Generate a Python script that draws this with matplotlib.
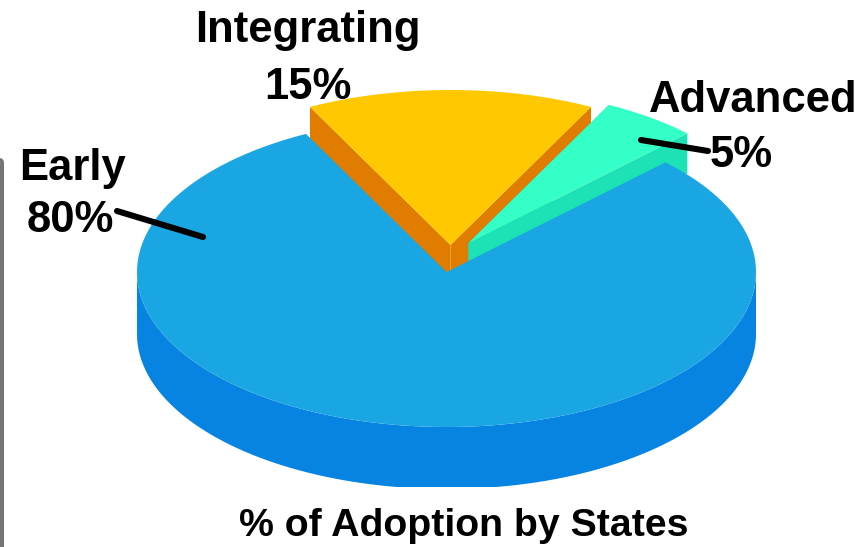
import numpy as np
import matplotlib
matplotlib.use("Agg")
import matplotlib.pyplot as plt
from matplotlib.patches import Polygon, FancyBboxPatch, Rectangle

plt.rcParams["font.family"] = ["Liberation Sans", "DejaVu Sans"]

# going counter-clockwise from the start angle
categories = ["Early", "Advanced", "Integrating"]
shares = [80, 5, 15]
percent_labels = ["80%", "5%", "15%"]
title = "% of Adoption by States"

top_colors = ["#1AA5E3", "#33FFC6", "#FFC800"]
side_colors = ["#0784E2", "#1CE2B5", "#E07D00"]

start_angle = 117
radius_x, radius_y = 309.5, 155
center = (446.5, 272)
offsets = [(0, 0), (22, -29), (4, -27)]
depths = [62, 40, 34]
draw_order = [2, 1, 0]  # blue sits on top of the others

# name x, percent x, name baseline, percent baseline
label_pos = [(72, 70, 180, 232), (753, 741, 112, 167), (308, 308, 42, 99)]
leaders = [((117, 211), (203, 237)), ((641, 140), (708, 151)), None]


def arc_points(cx, cy, t0, t1, n=200):
    t = np.radians(np.linspace(t0, t1, n))
    return np.column_stack([cx + radius_x * np.cos(t), cy - radius_y * np.sin(t)])


fig = plt.figure(figsize=(8.65, 5.47), dpi=100)
ax = fig.add_axes([0, 0, 1, 1])
ax.set_xlim(0, 865)
ax.set_ylim(547, 0)
ax.axis("off")

# grey panel edge on the left
ax.add_patch(FancyBboxPatch((-30, 158), 34, 500, boxstyle="round,pad=0,rounding_size=5",
                            fc="#757575", ec="none", zorder=0))

ends = start_angle + np.cumsum(np.array(shares) * 3.6)
starts = ends - np.array(shares) * 3.6

z = 1
for i in draw_order:
    cx = center[0] + offsets[i][0]
    cy = center[1] + offsets[i][1]
    depth = depths[i]
    t0, t1 = starts[i], ends[i]

    if categories[i] == "Early":
        # the big slice shows its rounded wall
        front = arc_points(cx, cy, 180, 360)
        wall = np.vstack([front, (front + [0, depth])[::-1]])
        ax.add_patch(Polygon(wall, fc=side_colors[i], ec="none", zorder=z))
    else:
        # small slices show the two cut faces
        for t in (t0, t1):
            rim = arc_points(cx, cy, t, t, 1)[0]
            face = [(cx, cy), rim, rim + [0, depth], (cx, cy + depth)]
            ax.add_patch(Polygon(face, fc=side_colors[i], ec="none", zorder=z))
    z += 1

    top = np.vstack([[(cx, cy)], arc_points(cx, cy, t0, t1)])
    ax.add_patch(Polygon(top, fc=top_colors[i], ec="none", zorder=z))
    z += 1

# the title block cuts the bottom of the pie
ax.add_patch(Rectangle((5, 487), 860, 60, fc="white", ec="none", zorder=z))
z += 1

for i, name in enumerate(categories):
    name_x, pct_x, name_y, pct_y = label_pos[i]
    ax.text(name_x, name_y, name, ha="center", va="baseline", fontsize=31.4,
            fontweight="bold", color="black", zorder=z + 1)
    ax.text(pct_x, pct_y, percent_labels[i], ha="center", va="baseline", fontsize=31.4,
            fontweight="bold", color="black", zorder=z + 1)
    if leaders[i]:
        (x0, y0), (x1, y1) = leaders[i]
        ax.plot([x0, x1], [y0, y1], color="black", lw=4.4, solid_capstyle="round", zorder=z)

ax.text(464, 536, title, ha="center", va="baseline", fontsize=28.3,
        fontweight="bold", color="black", zorder=z + 1)

fig.savefig("out.png", dpi=100)
